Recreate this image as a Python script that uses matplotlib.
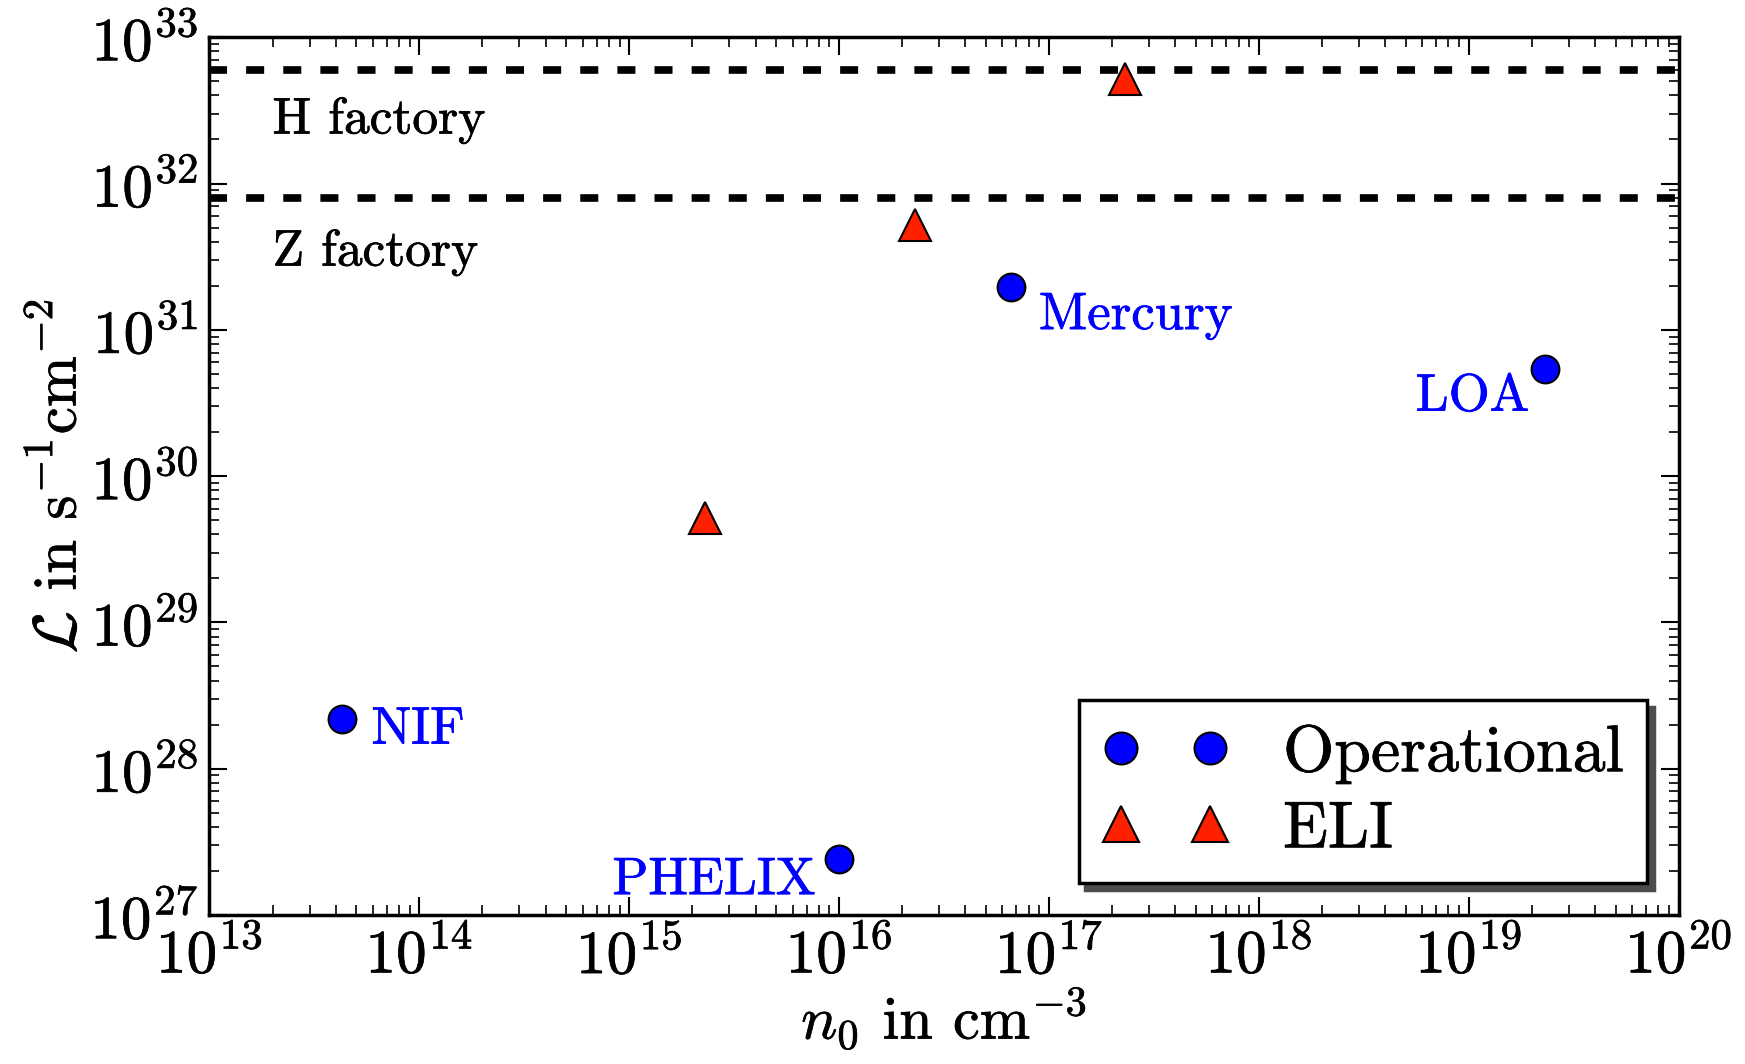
import matplotlib
matplotlib.use("Agg")
import matplotlib.pyplot as plt
import matplotlib.patheffects as pe
from matplotlib.text import Text

plt.rcParams['font.family'] = 'serif'
plt.rcParams['font.serif'] = ['cmr10']
plt.rcParams['mathtext.fontset'] = 'cm'
plt.rcParams['axes.formatter.use_mathtext'] = True
plt.rcParams['axes.unicode_minus'] = False

# Operational facilities
op_names = ["NIF", "PHELIX", "Mercury", "LOA"]
op_n0 = [4.3e13, 1.0e16, 6.6e16, 2.3e19]
op_lum = [2.2e28, 2.4e27, 1.95e31, 5.4e30]

# ELI
eli_n0 = [2.3e15, 2.3e16, 2.3e17]
eli_lum = [5.2e29, 5.2e31, 5.2e32]

# factory luminosities
h_factory = 6.0e32
z_factory = 8.0e31

blue = "#0000ff"
red = "#ff2000"

fig = plt.figure(figsize=(17.45, 10.64), dpi=100)
ax = fig.add_axes([0.12, 0.14, 0.842, 0.825])

ax.plot(op_n0, op_lum, "o", color=blue, markeredgecolor="black", markeredgewidth=1.5,
        markersize=20, label="Operational")
ax.plot(eli_n0, eli_lum, "^", color=red, markeredgecolor="black", markeredgewidth=1.5,
        markersize=23, label="ELI")

for y in [h_factory, z_factory]:
    ax.axhline(y, color="black", linestyle="--", linewidth=5.5, dashes=(2.36, 2.5))

ax.text(2.0e13, 2.2e32, "H factory", fontsize=37, va="baseline")
ax.text(2.0e13, 2.75e31, "Z factory", fontsize=37, va="baseline")

# label offsets (points)
offsets = {"NIF": (21, -18, "left"), "PHELIX": (-17, -25, "right"),
           "Mercury": (20, -30, "left"), "LOA": (-11, -30, "right")}
for name, x, y in zip(op_names, op_n0, op_lum):
    dx, dy, ha = offsets[name]
    ax.annotate(name, (x, y), xytext=(dx, dy), textcoords="offset points",
                color=blue, fontsize=38, ha=ha, va="baseline")

ax.set_xscale("log")
ax.set_yscale("log")
ax.set_xlim(1e13, 1e20)
ax.set_ylim(1e27, 1e33)

ax.set_xlabel(r"$n_0$ in cm$^{-3}$", fontsize=43.5, labelpad=0)
ax.set_ylabel(r"$\mathcal{L}$ in s$^{-1}$cm$^{-2}$", fontsize=44, labelpad=2)

ax.tick_params(which="both", direction="in", top=True, right=True, labelsize=44, pad=8)
ax.tick_params(which="major", length=13, width=1.5)
ax.tick_params(which="minor", length=7, width=1.2)
for s in ax.spines.values():
    s.set_linewidth(2.5)

leg = ax.legend(loc="lower right", numpoints=2, fontsize=47.5, fancybox=False,
                shadow={"ox": 5, "oy": -5, "color": "0.3", "alpha": 1},
                framealpha=1, edgecolor="black", borderaxespad=0.48, handletextpad=0.8,
                handlelength=1.95, markerscale=1.15,
                borderpad=0.35, labelspacing=0.25)
leg.get_frame().set_linewidth(2.5)

# the TeX rendering looks a bit heavier, thicken the glyphs slightly
for t in fig.findobj(Text):
    t.set_path_effects([pe.withStroke(linewidth=0.5, foreground=t.get_color())])

fig.savefig("out.png", dpi=100)
